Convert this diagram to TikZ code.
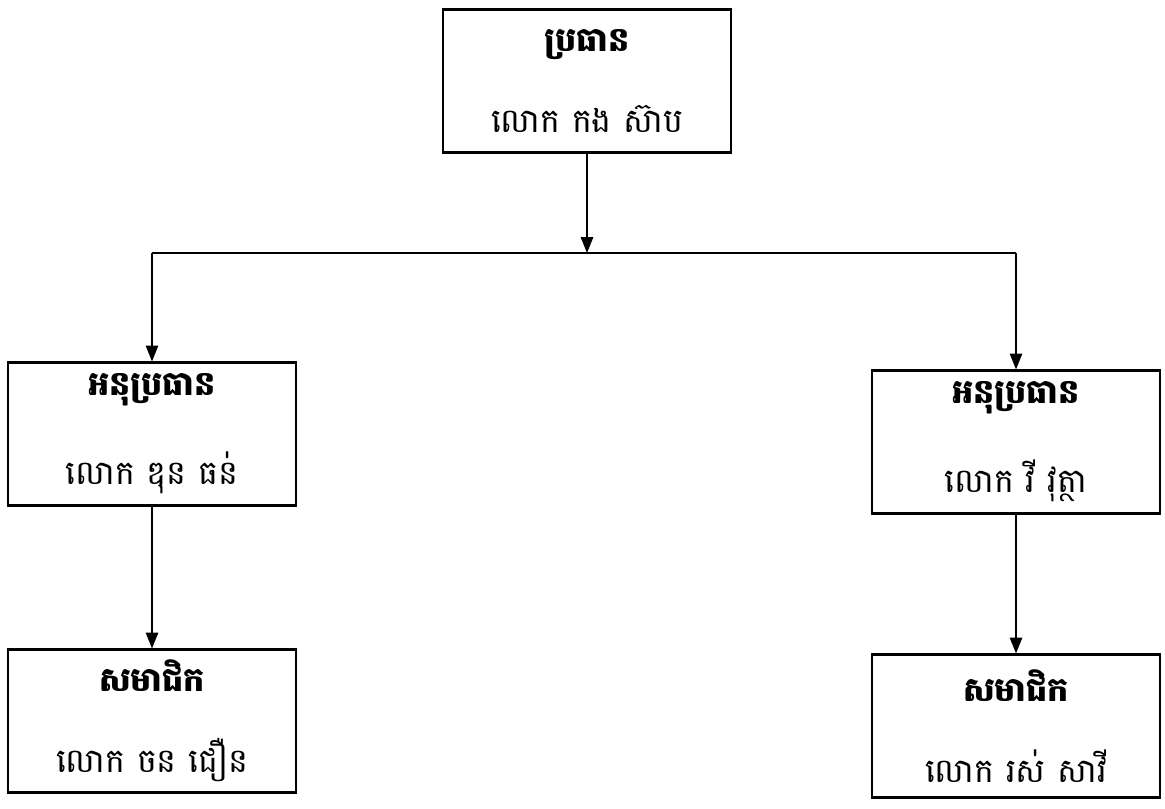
\documentclass[tikz,border=0pt]{standalone}
\usepackage{fontspec}
\usepackage{tikz}
\usetikzlibrary{arrows.meta}
\newfontfamily\khmer[Script=Khmer]{Battambang}

\begin{document}
\begin{tikzpicture}[x=0.02cm,y=-0.02cm,>={Triangle[length=9pt,width=7pt]},line width=1pt]
    \tikzstyle{post}=[draw=black, rectangle, line width=1.2pt, minimum width=5.75cm, minimum height=2.86cm, align=center, font=\khmer\fontsize{19}{21}\selectfont, text=black]
    \tikzstyle{link}=[->, line width=1pt]
    \useasboundingbox (0,0) rectangle (1165,808);

    \node[post] (chair)  at (587,81)   {{\bfseries ប្រធាន}\\[25pt] លោក កង ស៊ាប};
    \node[post] (vicel)  at (152,434)  {{\bfseries អនុប្រធាន}\\[25pt] លោក ឌុន ធន់};
    \node[post] (vicer)  at (1016,442) {{\bfseries អនុប្រធាន}\\[25pt] លោក វី វុត្ថា};
    \node[post] (meml)   at (152,721)  {{\bfseries សមាជិក}\\[25pt] លោក ចន ជឿន};
    \node[post] (memr)   at (1016,726) {{\bfseries សមាជិក}\\[25pt] លោក រស់ សាវី};
    \coordinate (jm) at (chair.south |- 0,253);
    \coordinate (jl) at (vicel.north |- 0,253);
    \coordinate (jr) at (vicer.north |- 0,253);

    \draw[link] (chair) -- (jm);
    \draw (jl) -- (jr);
    \draw[link] (jl) -- (vicel);
    \draw[link] (jr) -- (vicer);
    \draw[link] (vicel) -- (meml);
    \draw[link] (vicer) -- (memr);
\end{tikzpicture}
\end{document}
